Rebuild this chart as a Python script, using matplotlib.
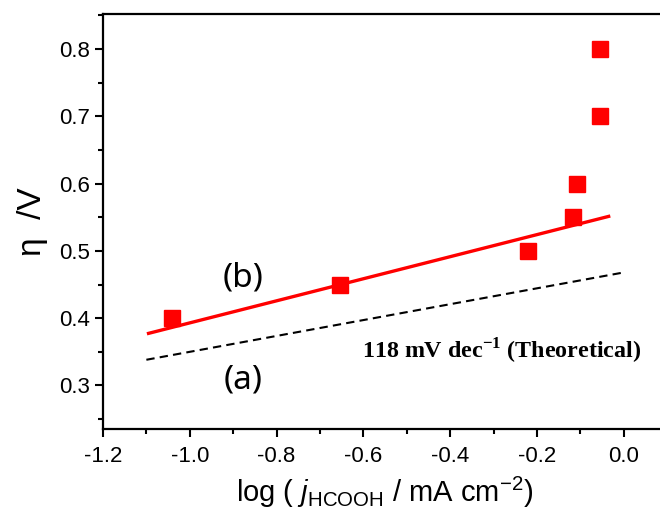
import numpy as np
import matplotlib.pyplot as plt
from matplotlib.ticker import MultipleLocator

# Tafel data
log_j = [-1.041, -0.654, -0.221, -0.117, -0.108, -0.055, -0.055]
eta = [0.40, 0.45, 0.50, 0.55, 0.60, 0.70, 0.80]

# fitted line (b)
fit_slope = 0.164
fit_intercept = 0.557
fit_range = [-1.095, -0.035]

# theoretical 118 mV/dec line (a)
theo_slope = 0.118
theo_intercept = 0.468
theo_range = [-1.1, 0.0]

xticks = [-1.2, -1.0, -0.8, -0.6, -0.4, -0.2, 0.0]
yticks = [0.3, 0.4, 0.5, 0.6, 0.7, 0.8]

plt.rcParams['font.family'] = ['Liberation Sans', 'DejaVu Sans']
plt.rcParams['axes.unicode_minus'] = False
plt.rcParams['mathtext.fontset'] = 'custom'
plt.rcParams['mathtext.rm'] = 'Liberation Sans'
plt.rcParams['mathtext.it'] = 'Liberation Sans:italic'
plt.rcParams['mathtext.bf'] = 'Liberation Serif:bold'

fig = plt.figure(figsize=(6.6, 5.19), dpi=100)
ax = fig.add_axes([0.156, 0.173, 0.855, 0.800])

xf = np.array(fit_range)
ax.plot(xf, fit_intercept + fit_slope * xf, color='red', lw=2.4)

xt = np.array(theo_range)
ax.plot(xt, theo_intercept + theo_slope * xt, color='black', lw=1.5,
        linestyle=(0, (4, 2.5)))

ax.plot(log_j, eta, 's', color='red', ms=12, mec='red', ls='none')

ax.text(-0.877, 0.459, '(b)', fontsize=24, ha='center', va='center',
        family=['Noto Sans', 'DejaVu Sans'])
ax.text(-0.877, 0.308, '(a)', fontsize=24, ha='center', va='center',
        family=['Noto Sans', 'DejaVu Sans'])
ax.text(-0.603, 0.352, '118 mV dec$^{\\mathbf{-1}}$ (Theoretical)', fontsize=17.3,
        fontweight='bold', family=['Liberation Serif', 'DejaVu Serif'],
        ha='left', va='center')

ax.set_xlim(-1.2, 0.1)
ax.set_ylim(0.235, 0.852)
ax.set_xticks(xticks)
ax.set_yticks(yticks)
ax.xaxis.set_minor_locator(MultipleLocator(0.1))
ax.yaxis.set_minor_locator(MultipleLocator(0.05))
ax.tick_params(which='major', direction='out', length=6, width=1.5, labelsize=16)
ax.tick_params(which='minor', direction='out', length=3.5, width=1.5)
ax.tick_params(axis='x', pad=6)
for s in ax.spines.values():
    s.set_linewidth(1.6)
ax.spines['right'].set_visible(False)

ax.set_ylabel('η  /V', fontsize=24, labelpad=8)
ax.set_xlabel('log ( $\\it{j}$$_{\\rm HCOOH}$ / mA cm$^{-2}$)', fontsize=21, labelpad=6)

plt.savefig('out.png', dpi=100)
